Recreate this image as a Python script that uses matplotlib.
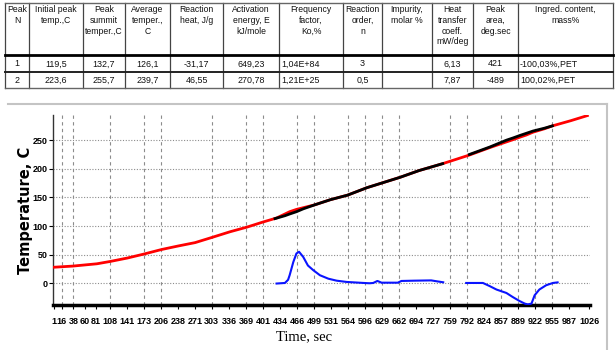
import numpy as np
import matplotlib.pyplot as plt

# ---- table data ----
headers = ["Peak\nN", "Initial peak\ntemp.,C", "Peak\nsummit\ntemper.,C",
           "Average\ntemper.,\nC", "Reaction\nheat, J/g",
           "Activation\nenergy, E\nkJ/mole", "Frequency\nfactor,\nKo,%",
           "Reaction\norder,\nn", "Impurity,\nmolar %",
           "Heat\ntransfer\ncoeff.\nmW/deg", "Peak\narea,\ndeg.sec",
           "Ingred. content,\nmass%"]
row_1 = ["1", "119,5", "132,7", "126,1", "-31,17", "649,23", "1,04E+84",
         "3", "", "6,13", "421", "-100,03%,PET"]
row_2 = ["2", "223,6", "255,7", "239,7", "46,55", "270,78", "1,21E+25",
         "0,5", "", "7,87", "-489", "100,02%,PET"]
left_cols = [6, 11]  # left aligned data columns

# ---- chart data ----
time_ticks = [1, 16, 38, 60, 81, 108, 141, 173, 206, 238, 271, 303, 336, 369,
              401, 434, 466, 499, 531, 564, 596, 629, 662, 694, 727, 759, 792,
              824, 857, 889, 922, 955, 987, 1026]
grid_times = [16, 38, 108, 173, 206, 303, 369, 401, 466, 499, 564, 596, 629,
              662, 759, 792, 857, 889, 922, 955]
temp_ticks = [0, 50, 100, 150, 200, 250]

# measured temperature (red)
red_time = [1, 37, 83, 108, 141, 173, 207, 238, 271, 303, 338, 370, 401, 427,
            443, 452, 465, 478, 500, 530, 563, 600, 663, 700, 745, 796, 835,
            867, 880, 892, 905, 918, 940, 955, 990, 1022]
red_temp = [28, 30, 34, 38, 44, 51, 59, 65, 71, 80, 90, 98, 107, 114,
            121, 125, 129, 132, 137, 146, 154, 167, 185, 197, 209, 224, 237,
            247, 251, 255, 259, 264, 270, 275, 284, 293]

# calculated temperature in peak zones (black)
black_time_1 = [424, 443, 452, 465, 478, 500, 530, 563, 600, 663, 700, 745]
black_temp_1 = [113, 118, 121, 125, 130, 137, 146, 154, 167, 185, 197, 209]
black_time_2 = [796, 835, 867, 880, 892, 905, 918, 940, 955]
black_temp_2 = [225, 238, 250, 254, 258, 262, 266, 271, 275]

# DSC signal (blue)
dsc_time_1 = [427, 443, 449, 452, 459, 465, 470, 478, 487, 497, 510, 526, 542,
              561, 592, 605, 612, 620, 628, 659, 666, 690, 723, 733, 746]
dsc_val_1 = [-0.5, 0.5, 6, 14, 37, 52, 55, 46, 31, 23, 14, 8, 4.5,
             2.3, 0.6, 0, 0.5, 4, 1, 1, 4, 4.5, 5, 3.5, 1.7]
dsc_time_2 = [790, 822, 835, 848, 867, 879, 892, 902, 908, 915, 921, 930, 943,
              956, 965]
dsc_val_2 = [0.5, 0.5, -5, -11, -17, -24, -31, -35.5, -37, -35.5, -21, -11,
             -3.5, 0.5, 1.5]

fig = plt.figure(figsize=(6.15, 3.5), dpi=100)

# overlay in pixel units for table and frame
ov = fig.add_axes([0, 0, 1, 1])
ov.set_xlim(0, 615)
ov.set_ylim(350, 0)
ov.axis('off')

col_edges = [5, 29, 83, 125, 170, 223, 279, 343, 382, 432, 473, 518, 613]
row_edges = [3, 55, 72, 88]
for x in col_edges:
    ov.plot([x, x], [row_edges[0], row_edges[-1]], color='#444444', lw=0.9)
ov.plot([5, 613], [3, 3], color='#666666', lw=1)
ov.plot([5, 613], [55, 55], color='black', lw=2)
ov.plot([5, 613], [72, 72], color='#222222', lw=1.4)
ov.plot([5, 613], [88, 88], color='#666666', lw=1)

for i, h in enumerate(headers):
    cx = (col_edges[i] + col_edges[i + 1]) / 2
    ov.text(cx, 5, h, ha='center', va='top', fontsize=6.2,
            family='Liberation Sans', linespacing=1.25, color='#111111')
for row, yc in [(row_1, 64), (row_2, 80.5)]:
    for i, v in enumerate(row):
        if i in left_cols:
            ov.text(col_edges[i] + 2, yc, v, ha='left', va='center',
                    fontsize=6.4, family='Liberation Sans', color='#111111')
        else:
            cx = (col_edges[i] + col_edges[i + 1]) / 2
            ov.text(cx, yc, v, ha='center', va='center', fontsize=6.4,
                    family='Liberation Sans', color='#111111')

# chart frame
ov.plot([8, 607], [104, 104], color='#c4c4c4', lw=1.5)
ov.plot([607, 607], [104, 350], color='#c4c4c4', lw=1.5)

# ---- main plot ----
ax = fig.add_axes([53 / 615, 1 - 305 / 350, 537 / 615, 190 / 350])
ax.patch.set_alpha(0)
ax.set_xlim(-1, 1027)
ax.set_ylim(-38, 294)

ax.vlines(grid_times, -38, 294, colors='#8c8c8c', linestyles=(0, (3, 3)),
          lw=0.8, zorder=1)
ax.hlines(temp_ticks, -1, 1027, colors='#8c8c8c', linestyles=(0, (1, 1.5)),
          lw=0.8, zorder=1)

ax.plot(red_time, red_temp, color='red', lw=2, zorder=3)
ax.plot(black_time_1, black_temp_1, color='black', lw=2, zorder=4)
ax.plot(black_time_2, black_temp_2, color='black', lw=2, zorder=4)
ax.plot(dsc_time_1, dsc_val_1, color='#0a14ff', lw=1.5, zorder=5)
ax.plot(dsc_time_2, dsc_val_2, color='#0a14ff', lw=1.5, zorder=5)

for s in ['top', 'right']:
    ax.spines[s].set_visible(False)
ax.spines['left'].set_linewidth(1)
ax.spines['left'].set_color('#333333')
ax.spines['bottom'].set_linewidth(2.5)

tick_font = 'Liberation Sans'
ax.set_xticks(time_ticks)
ax.set_xticklabels([str(t) for t in time_ticks], family=tick_font,
                   fontweight='bold', fontsize=6.5)
ax.set_yticks(temp_ticks)
ax.set_yticklabels([str(t) for t in temp_ticks], family=tick_font,
                   fontweight='bold', fontsize=6.5)
ax.tick_params(axis='x', length=3, width=0.8, pad=6)
ax.tick_params(axis='y', length=3, width=0.8, pad=1)

ax.set_ylabel("Temperature, C", fontweight='bold', fontsize=10.5,
              family='DejaVu Sans', va='center')
ax.yaxis.set_label_coords(-0.052, 0.5)
ax.set_xlabel("Time, sec", family='Liberation Serif', fontsize=10.5,
              va='center')
ax.xaxis.set_label_coords(0.467, -0.168)

fig.savefig("out.png", dpi=100)
